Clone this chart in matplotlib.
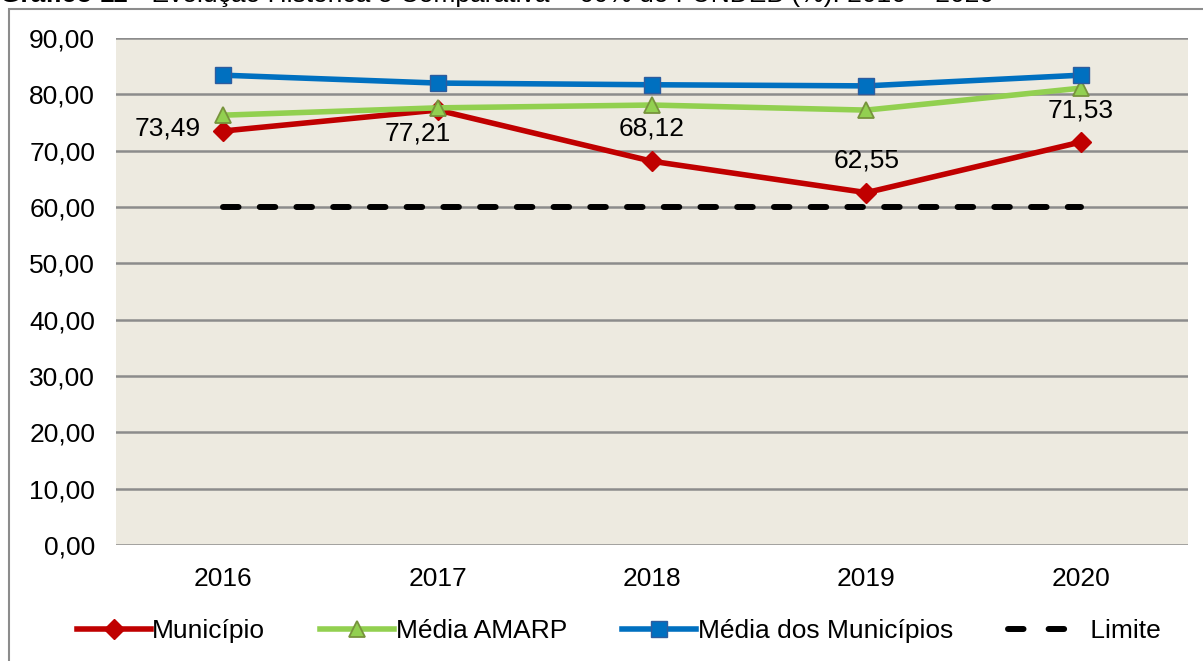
import matplotlib
matplotlib.use("Agg")
import matplotlib.pyplot as plt
from matplotlib.patches import Rectangle
from matplotlib.lines import Line2D

plt.rcParams['font.family'] = ['Liberation Sans', 'DejaVu Sans']

years = ["2016", "2017", "2018", "2019", "2020"]
municipio = [73.49, 77.21, 68.12, 62.55, 71.53]
media_amarp = [76.3, 77.6, 78.1, 77.2, 81.1]
media_municipios = [83.4, 82.0, 81.7, 81.5, 83.4]
limite = [60, 60, 60, 60, 60]
labels_mun = ["73,49", "77,21", "68,12", "62,55", "71,53"]
yticks = [0, 10, 20, 30, 40, 50, 60, 70, 80, 90]

FS = 19

fig = plt.figure(figsize=(12.03, 6.61), dpi=100)
ax = fig.add_axes([116/1203, 1-545/661, (1188-116)/1203, (545-38)/661])
ax.set_facecolor('#EDEAE0')

x = list(range(len(years)))

l_lim, = ax.plot(x, limite, color='black', lw=4.3, dashes=(2.6, 3.55), solid_capstyle='round',
                 dash_capstyle='round', label='Limite', zorder=3)
l_mun, = ax.plot(x, municipio, color='#C00000', lw=4, marker='D', ms=10.5,
                 markerfacecolor='#C00000', markeredgecolor='#C00000', label='Município', zorder=4)
l_am, = ax.plot(x, media_amarp, color='#92D050', lw=4, marker='^', ms=11.5,
                markerfacecolor='#92D050', markeredgecolor='#77933C', markeredgewidth=1.3,
                label='Média AMARP', zorder=4)
l_mm, = ax.plot(x, media_municipios, color='#0070C0', lw=4, marker='s', ms=11,
                markerfacecolor='#0070C0', markeredgecolor='#2E5C9E', markeredgewidth=1.0,
                label='Média dos Municípios', zorder=5)

# data labels (offsets in pixels from each point)
label_offsets = [(-56, 3), (-20, -23), (0, 33), (0, 32), (0, 32)]
for i, (v, t) in enumerate(zip(municipio, labels_mun)):
    dx, dy = label_offsets[i]
    ax.annotate(t, (x[i], v), xytext=(dx, dy), textcoords='offset pixels',
                ha='center', va='center', fontsize=FS, zorder=6)

ax.set_xlim(-0.5, 4.5)
ax.set_ylim(0, 90)
ax.set_yticks(yticks)
ax.set_yticklabels([f"{v:.2f}".replace('.', ',') for v in yticks], fontsize=FS)
ax.set_xticks(x)
ax.set_xticklabels(years, fontsize=FS)
ax.tick_params(axis='both', length=0)
ax.tick_params(axis='y', pad=15)
ax.tick_params(axis='x', pad=16)
ax.grid(axis='y', color='#8C8C8C', lw=1.8, zorder=1)
ax.set_axisbelow(True)
for s in ax.spines.values():
    s.set_visible(False)

lim_handle = Line2D([], [], color='black', lw=4.3, dashes=(2.6, 4.2),
                    dash_capstyle='round', label='Limite')
leg = fig.legend(loc='center', bbox_to_anchor=(619/1203, 1-631/661), ncol=4, frameon=False,
                 fontsize=FS, handlelength=2.8, handletextpad=0.05, columnspacing=2.1,
                 handles=[l_mun, l_am, l_mm, lim_handle],
                 labels=['Município', 'Média AMARP', 'Média dos Municípios', ' Limite'])

# outer chart frame
fig.patches.append(Rectangle((9/1203, -0.05), 1.1, 1-(-0.05)-9/661, transform=fig.transFigure,
                             fill=False, edgecolor='#8C8C8C', lw=1.5))

t1 = fig.text(0.0, 1-2/661, "Gráfico 11", weight='bold', ha='left', va='baseline', fontsize=FS)
ax.annotate(" - Evolução Histórica e Comparativa – 60% do FUNDEB (%): 2016 – 2020",
            xy=(1, 0), xycoords=t1, ha='left', va='bottom', fontsize=FS,
            annotation_clip=False)

fig.savefig('out.png', dpi=100)
